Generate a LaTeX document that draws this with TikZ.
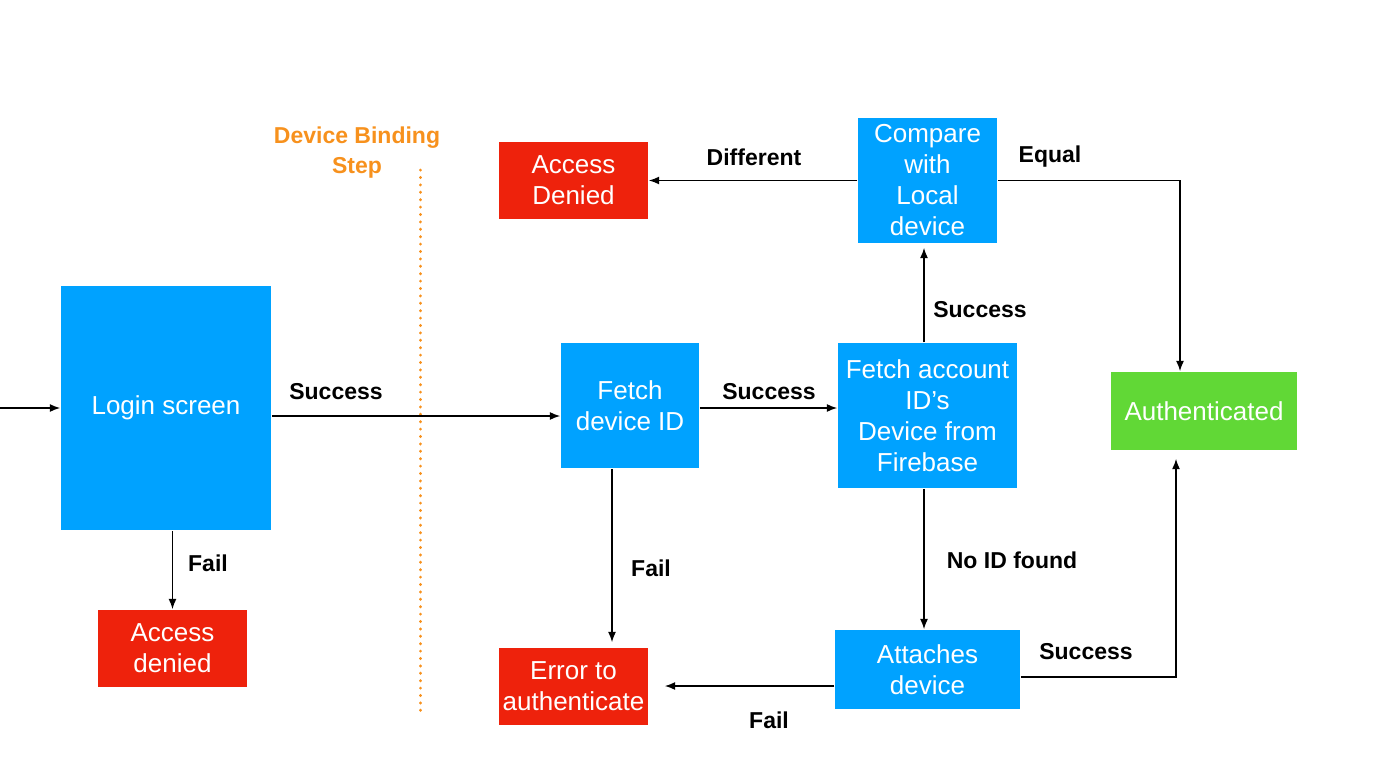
\documentclass[tikz,border=0pt]{standalone}
\usepackage{fontspec}
\setmainfont{Liberation Sans}
\usetikzlibrary{arrows.meta}

\definecolor{boxblue}{RGB}{0,162,255}
\definecolor{boxred}{RGB}{238,34,12}
\definecolor{boxgreen}{RGB}{97,216,54}
\definecolor{steporange}{RGB}{247,145,29}

\begin{document}
\begin{tikzpicture}[x=0.5pt,y=-0.5pt,line width=0.75pt,>={Latex[length=5.2pt,width=4pt]},
  blk/.style={fill=#1,text=white,align=center,inner sep=0pt,
    font=\fontsize{13}{15.5}\selectfont},
  lbl/.style={font=\bfseries\fontsize{11.5}{13}\selectfont}]
\useasboundingbox (0,0) rectangle (1400,781);
% ---------- boxes ----------
\node[blk=boxblue,minimum width=105pt,minimum height=122pt] (login) at (166,408) {Login screen};
\node[blk=boxred,minimum width=74.5pt,minimum height=38.5pt] (deniedA) at (172.5,648.5) {Access\\denied};
\node[blk=boxblue,minimum width=69pt,minimum height=62.5pt] (fetchid) at (630,405.5) {Fetch\\device ID};
\node[blk=boxblue,minimum width=89.5pt,minimum height=72.5pt] (fetchacc) at (927.5,415.5) {Fetch account\\ID's\\Device from\\Firebase};
\node[blk=boxblue,minimum width=69.5pt,minimum height=62.5pt] (compare) at (927.5,180.5) {Compare\\with\\Local\\device};
\node[blk=boxred,minimum width=74.5pt,minimum height=38.5pt] (deniedB) at (573.5,180.5) {Access\\Denied};
\node[blk=boxgreen,minimum width=93pt,minimum height=39pt] (auth) at (1204,411) {Authenticated};
\node[blk=boxred,minimum width=74.5pt,minimum height=38.5pt] (errauth) at (573.5,686.5) {Error to\\authenticate};
\node[blk=boxblue,minimum width=92.5pt,minimum height=39.5pt] (attach) at (927.5,669.5) {Attaches\\device};
% ---------- device binding step ----------
\node[font=\bfseries\fontsize{11.5}{15}\selectfont,text=steporange,align=center] (steptxt) at (357,153) {Device Binding\\Step};
\coordinate (sepTop) at (420,170);
\coordinate (sepBot) at (420,717);
\draw[steporange,line width=1.5pt,dash pattern=on 0.1pt off 3.6pt,line cap=round] (sepTop) -- (sepBot);
% ---------- helper rows / columns ----------
\coordinate (entry) at (0,408);
\coordinate (rowA) at (0,416);
\coordinate (rowB) at (0,408);
\coordinate (rowC) at (0,686);
\coordinate (rowD) at (0,677);
\coordinate (colA) at (612,0);
\coordinate (colB) at (924,0);
\coordinate (colC) at (1180,0);
\coordinate (colD) at (1176,0);
% ---------- connectors ----------
\draw[->] (entry) -- (login.west);
\draw[->] (login.east |- rowA) -- (fetchid.west |- rowA);
\draw[->] (login.south -| deniedA.north) -- (deniedA.north);
\draw[->] (fetchid.east |- rowB) -- (fetchacc.west |- rowB);
\draw[->,shorten >=2.5pt] (fetchid.south -| colA) -- (errauth.north -| colA);
\draw[->,shorten >=2pt] (fetchacc.north -| colB) -- (compare.south -| colB);
\draw[->] (compare.west) -- (deniedB.east);
\draw[->] (compare.east) -- (compare.east -| colC) -- (auth.north -| colC);
\draw[->] (fetchacc.south -| colB) -- (attach.north -| colB);
\draw[->,shorten >=8pt] (attach.west |- rowC) -- (errauth.east |- rowC);
\draw[->,shorten >=4pt] (attach.east |- rowD) -- (colD |- rowD) -- (auth.south -| colD);
% ---------- labels ----------
\node[lbl] (lsucA) at (336,392) {Success};
\node[lbl] (lfailA) at (208,563) {Fail};
\node[lbl] (lsucB) at (769,392) {Success};
\node[lbl] (lfailB) at (651,568) {Fail};
\node[lbl] (lsucC) at (980,310) {Success};
\node[lbl] (ldiff) at (754,157) {Different};
\node[lbl] (lequal) at (1050,157) {Equal};
\node[lbl] (lnoid) at (1012,560) {No ID found};
\node[lbl] (lfailC) at (769,720) {Fail};
\node[lbl] (lsucD) at (1086,652) {Success};
\end{tikzpicture}
\end{document}
